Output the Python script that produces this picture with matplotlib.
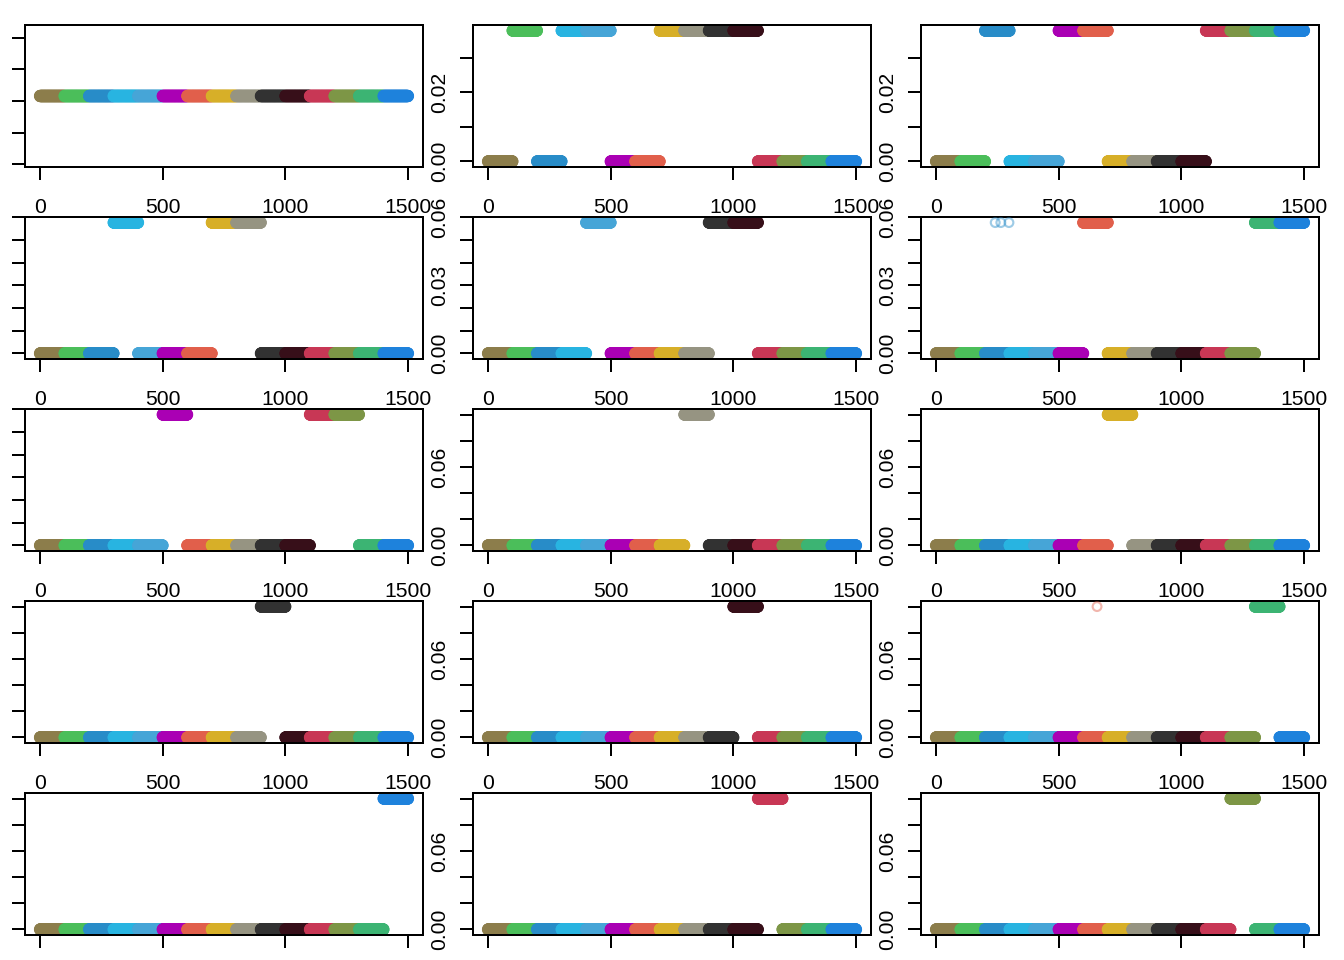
import numpy as np
import matplotlib
matplotlib.use("Agg")
import matplotlib.pyplot as plt
import math

# ---------------- data ----------------
n_groups = 15
points_per_group = 100
group_colors = ["#8C7D4B", "#4BBE5A", "#288CC8", "#28B4E1", "#46A5D7",
                "#AA00B4", "#E15F4B", "#D7AF28", "#969482", "#323232",
                "#370F19", "#C83755", "#7D9646", "#3CB473", "#1E82DC"]

# groups (1-based) whose points sit at the high value in each panel
panel_high_groups = [
    list(range(1, 16)),
    [2, 4, 5, 8, 9, 10, 11],
    [3, 6, 7, 12, 13, 14, 15],
    [4, 8, 9],
    [5, 10, 11],
    [7, 14, 15],
    [6, 12, 13],
    [9],
    [8],
    [10],
    [11],
    [14],
    [15],
    [12],
    [13],
]
panel_high_values = [0.0258, 0.0378, 0.0378, 0.0577, 0.0577, 0.0577, 0.0577,
                     0.1, 0.1, 0.1, 0.1, 0.1, 0.1, 0.1, 0.1]
low_value = 0.0

# extra open-circle points (panel index, group, x positions) drawn at the high value
open_panels = [5, 11]
open_groups = [3, 7]
open_x = [[242, 265, 298], [657]]

x_ticks = [0, 500, 1000, 1500]
x_tick_labels = ["0", "500", "1000", "1500"]

# ---------------- helpers (R-like axis) ----------------
def r_pretty_unit(lo, hi, n=5, h=1.5):
    dx = hi - lo
    cell = dx / n
    U = 10 ** math.floor(math.log10(cell))
    unit = U
    h5 = 0.5 + 1.5 * h
    if 2 * U - cell < h * (cell - unit):
        unit = 2 * U
        if 5 * U - cell < h5 * (cell - unit):
            unit = 5 * U
            if 10 * U - cell < h * (cell - unit):
                unit = 10 * U
    return unit

def r_ticks(lo, hi):
    unit = r_pretty_unit(lo, hi)
    k0 = math.ceil(lo / unit - 1e-7)
    k1 = math.floor(hi / unit + 1e-7)
    return [k * unit for k in range(k0, k1 + 1)], unit

def fmt_ticks(ticks):
    for d in range(0, 8):
        if all(abs(round(t, d) - t) < 1e-9 for t in ticks):
            return ["%.*f" % (d, t) for t in ticks]
    return [str(t) for t in ticks]

# ---------------- figure ----------------
plt.rcParams['font.family'] = ['Liberation Sans', 'DejaVu Sans']
DPI = 192
fig = plt.figure(figsize=(7, 5), dpi=DPI)
W, H = 1344, 960
cell_w, cell_h = W / 3, H / 5
mar = 25.34
font_pt = 12 * 0.66
font_px = font_pt * DPI / 72
em_digit, em_dot, em_m = 0.556, 0.278, 0.833
gap_px = em_m * font_px

x = np.arange(1, n_groups * points_per_group + 1)
grp = (x - 1) // points_per_group + 1
pt_colors = [group_colors[g - 1] for g in grp]

xlo, xhi = x.min(), x.max()
xr = xhi - xlo
xlim = (xlo - 0.04 * xr, xhi + 0.04 * xr)

box_h_px = cell_h - 2 * mar

for p in range(15):
    r, c = divmod(p, 3)
    left = (c * cell_w + mar) / W
    bottom = 1 - ((r + 1) * cell_h - mar) / H
    ax = fig.add_axes([left, bottom, (cell_w - 2 * mar) / W, box_h_px / H])

    hv = panel_high_values[p]
    high = set(panel_high_groups[p])
    y = np.array([hv if g in high else low_value for g in grp])

    ax.scatter(x, y, c=pt_colors, s=4.6 ** 2, linewidths=0, zorder=2)

    if p in open_panels:
        k = open_panels.index(p)
        ox = np.array(open_x[k])
        ax.scatter(ox, np.full(len(ox), hv), s=3.3 ** 2, facecolors='none',
                   edgecolors=group_colors[open_groups[k] - 1], alpha=0.45,
                   linewidths=0.8, zorder=3)

    ylo, yhi = y.min(), y.max()
    if yhi == ylo:
        ylo, yhi = 0.6 * ylo, 1.4 * yhi
    yr = yhi - ylo
    ylim = (ylo - 0.04 * yr, yhi + 0.04 * yr)
    ax.set_xlim(*xlim)
    ax.set_ylim(*ylim)

    yt, unit = r_ticks(*ylim)
    labels = fmt_ticks(yt)
    # R-style label thinning
    px_per_unit = box_h_px / (ylim[1] - ylim[0])
    shown = []
    last_c, last_w = None, None
    for t, lab in zip(yt, labels):
        w = sum(em_dot if ch == '.' else em_digit for ch in lab) * font_px
        cpos = t * px_per_unit
        if last_c is None or cpos - last_c >= (last_w / 2 + w / 2 + gap_px):
            shown.append(lab)
            last_c, last_w = cpos, w
        else:
            shown.append("")
    if c == 0:
        # first-column labels fall outside the figure in the reference
        shown = ["" for _ in shown]
    ax.set_yticks(yt)
    ax.set_yticklabels(shown)
    ax.set_xticks(x_ticks)
    if r == 4:
        # bottom-row labels fall outside the figure in the reference
        ax.set_xticklabels(["" for _ in x_tick_labels])
    else:
        ax.set_xticklabels(x_tick_labels)

    for s in ax.spines.values():
        s.set_linewidth(0.75)
        s.set_color('black')
    ax.tick_params(axis='both', direction='out', length=4.9, width=0.75,
                   labelsize=font_pt, colors='black')
    ax.tick_params(axis='x', pad=7.0)
    ax.tick_params(axis='y', pad=4.3)
    for lab in ax.get_yticklabels():
        lab.set_rotation(90)
        lab.set_verticalalignment('center')
        lab.set_horizontalalignment('right')
    ax.set_facecolor('white')
    for lab in ax.get_xticklabels() + ax.get_yticklabels():
        lab.set_clip_on(False)

fig.savefig("out.png", dpi=DPI, facecolor='white')
